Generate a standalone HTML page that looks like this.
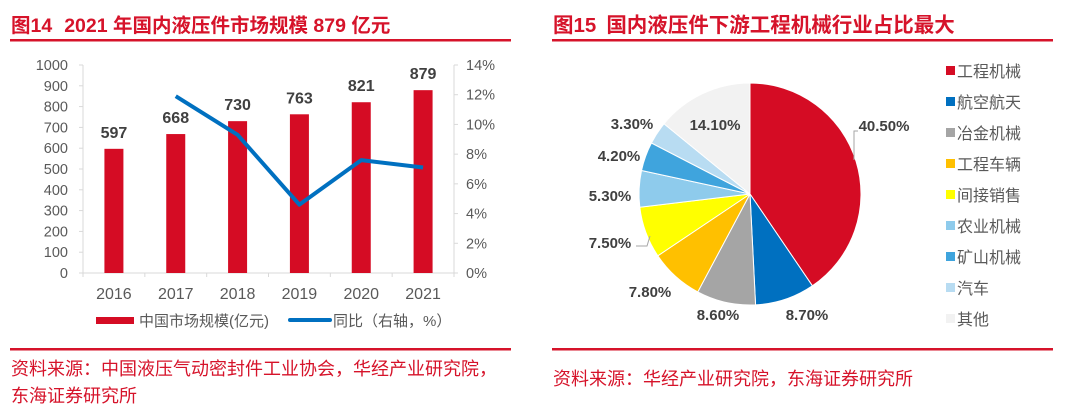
<!DOCTYPE html>
<html><head><meta charset="utf-8"><style>
html,body{margin:0;padding:0;background:#fff;}
svg{display:block;font-family:"Liberation Sans","Noto Sans CJK SC",sans-serif;}
</style></head><body>
<svg id="s" width="1080" height="416" viewBox="0 0 1080 416" xmlns="http://www.w3.org/2000/svg">
<text x="11" y="32" font-size="19.5" font-weight="bold" fill="#d6132a">图14<tspan dx="12">2021 年国内液压件市场规模 879 亿元</tspan></text>
<rect x="10" y="39" width="501" height="2.5" fill="#d6132a"/>
<text x="553" y="32" font-size="20.5" font-weight="bold" fill="#d6132a">图15<tspan dx="10">国内液压件下游工程机械行业占比最大</tspan></text>
<rect x="552" y="39" width="501" height="2.5" fill="#d6132a"/>
<g id="bar"></g>
<g id="pie"></g>
<rect x="10" y="348" width="501" height="2.5" fill="#d6132a"/>
<text x="11" y="375" font-size="18" fill="#d6132a">资料来源：中国液压气动密封件工业协会，华经产业研究院，</text>
<text x="11" y="402" font-size="18" fill="#d6132a">东海证券研究所</text>
<rect x="552" y="348" width="501" height="2.5" fill="#d6132a"/>
<text x="553" y="385" font-size="18" fill="#d6132a">资料来源：华经产业研究院，东海证券研究所</text>
</svg>
<script>
const years=["2016","2017","2018","2019","2020","2021"];
const market=[597,668,730,763,821,879];
const growth=[null,11.9,9.3,4.6,7.6,7.1];
const leftTicks=[0,100,200,300,400,500,600,700,800,900,1000];
const rightTicks=[0,2,4,6,8,10,12,14];
const sectors=["工程机械","航空航天","冶金机械","工程车辆","间接销售","农业机械","矿山机械","汽车","其他"];
const shares=[40.5,8.7,8.6,7.8,7.5,5.3,4.2,3.3,14.1];
const shareLabels=["40.50%","8.70%","8.60%","7.80%","7.50%","5.30%","4.20%","3.30%","14.10%"];
const colors=["#d50c24","#0070c0","#a5a5a5","#ffc000","#ffff00","#8ecbec","#3fa4dd","#b8dcf2","#f2f2f2"];
const NS="http://www.w3.org/2000/svg";
function mk(p,t,a){const e=document.createElementNS(NS,t);for(const k in a)e.setAttribute(k,a[k]);p.appendChild(e);return e;}
const bar=document.getElementById('bar');
const x0=83,x1=454,y0=273,y1=65;
const band=(x1-x0)/years.length;
const xC=i=>x0+band*(i+0.5);
const yL=v=>y0-(v/1000)*(y0-y1);
const yR=v=>y0-(v/14)*(y0-y1);
let e;
e=mk(bar,'line',{x1:x0,y1:y1,x2:x0,y2:y0,stroke:'#d9d9d9','stroke-width':1});

e=mk(bar,'line',{x1:x1,y1:y1,x2:x1,y2:y0,stroke:'#d9d9d9','stroke-width':1});

e=mk(bar,'line',{x1:x0,y1:y0,x2:x1,y2:y0,stroke:'#d9d9d9','stroke-width':1});

leftTicks.forEach(v=>{
 const l=mk(bar,'line',{x1:x0-4,y1:yL(v),x2:x0,y2:yL(v),stroke:'#d9d9d9'});
 
 const t=mk(bar,'text',{x:x0-15,y:yL(v)+5,'font-size':14.5,fill:'#595959','text-anchor':'end'});t.textContent=v;
 
});
rightTicks.forEach(v=>{
 const l=mk(bar,'line',{x1:x1,y1:yR(v),x2:x1+4,y2:yR(v),stroke:'#d9d9d9'});
 
 const t=mk(bar,'text',{x:x1+12,y:yR(v)+5,'font-size':14.5,fill:'#595959'});t.textContent=v+'%';
 
});
for(let i=0;i<=years.length;i++){const l=mk(bar,'line',{x1:x0+band*i,y1:y0,x2:x0+band*i,y2:y0+4,stroke:'#d9d9d9'});
 }
years.forEach((y,i)=>{
 const r=mk(bar,'rect',{x:xC(i)-9.5,y:yL(market[i]),width:19,height:y0-yL(market[i]),fill:'#d50c24'});
 
 const v=mk(bar,'text',{x:xC(i),y:yL(market[i])-11,'font-size':16,'font-weight':'bold',fill:'#404040','text-anchor':'middle'});v.textContent=market[i];
 
 const t=mk(bar,'text',{x:xC(i),y:299,'font-size':16,fill:'#595959','text-anchor':'middle'});t.textContent=y;
 
});
let d='';growth.forEach((g,i)=>{if(g==null)return;d+=(d?'L':'M')+xC(i)+' '+yR(g);});
e=mk(bar,'path',{d:d,fill:'none',stroke:'#0070c0','stroke-width':4,'stroke-linejoin':'round'});

e=mk(bar,'rect',{x:96,y:317,width:38,height:7,fill:'#d50c24'});

e=mk(bar,'text',{x:139,y:326,'font-size':15,fill:'#595959'});e.textContent='中国市场规模(亿元)';

e=mk(bar,'line',{x1:290,y1:320,x2:330,y2:320,stroke:'#0070c0','stroke-width':4,'stroke-linecap':'round'});

e=mk(bar,'text',{x:333,y:326,'font-size':15,fill:'#595959'});e.textContent='同比（右轴，%）';


const pie=document.getElementById('pie');
const cx=750,cy=194,R=111;
const labelPos=[[884,131],[807,320],[718,320],[650,297],[610,248],[610,201],[619,161],[632,129],[715,130]];
const total=shares.reduce((a,b)=>a+b,0);
let a=0;
shares.forEach((s,i)=>{
 const a0=a/total*2*Math.PI,a1=(a+s)/total*2*Math.PI;a+=s;
 const p0=[cx+R*Math.sin(a0),cy-R*Math.cos(a0)],p1=[cx+R*Math.sin(a1),cy-R*Math.cos(a1)];
 const large=(a1-a0)>Math.PI?1:0;
 const sl=mk(pie,'path',{d:`M${cx} ${cy}L${p0[0]} ${p0[1]}A${R} ${R} 0 ${large} 1 ${p1[0]} ${p1[1]}Z`,fill:colors[i],stroke:'#fff','stroke-width':1});
 
 const t=mk(pie,'text',{x:labelPos[i][0],y:labelPos[i][1],'font-size':15,'font-weight':'bold',fill:'#404040','text-anchor':'middle'});t.textContent=shareLabels[i];
 
 const ly=71+i*31;
 const sq=mk(pie,'rect',{x:946,y:ly-5,width:9,height:9,fill:colors[i]});
 
 const lt=mk(pie,'text',{x:957,y:ly+6,'font-size':16,fill:'#595959'});lt.textContent=sectors[i];
 
});
e=mk(pie,'path',{d:'M854 160L854 131L858 131',fill:'none',stroke:'#a6a6a6'});

e=mk(pie,'path',{d:'M636 246L647 246L650 236',fill:'none',stroke:'#a6a6a6'});

</script>
</body></html>
